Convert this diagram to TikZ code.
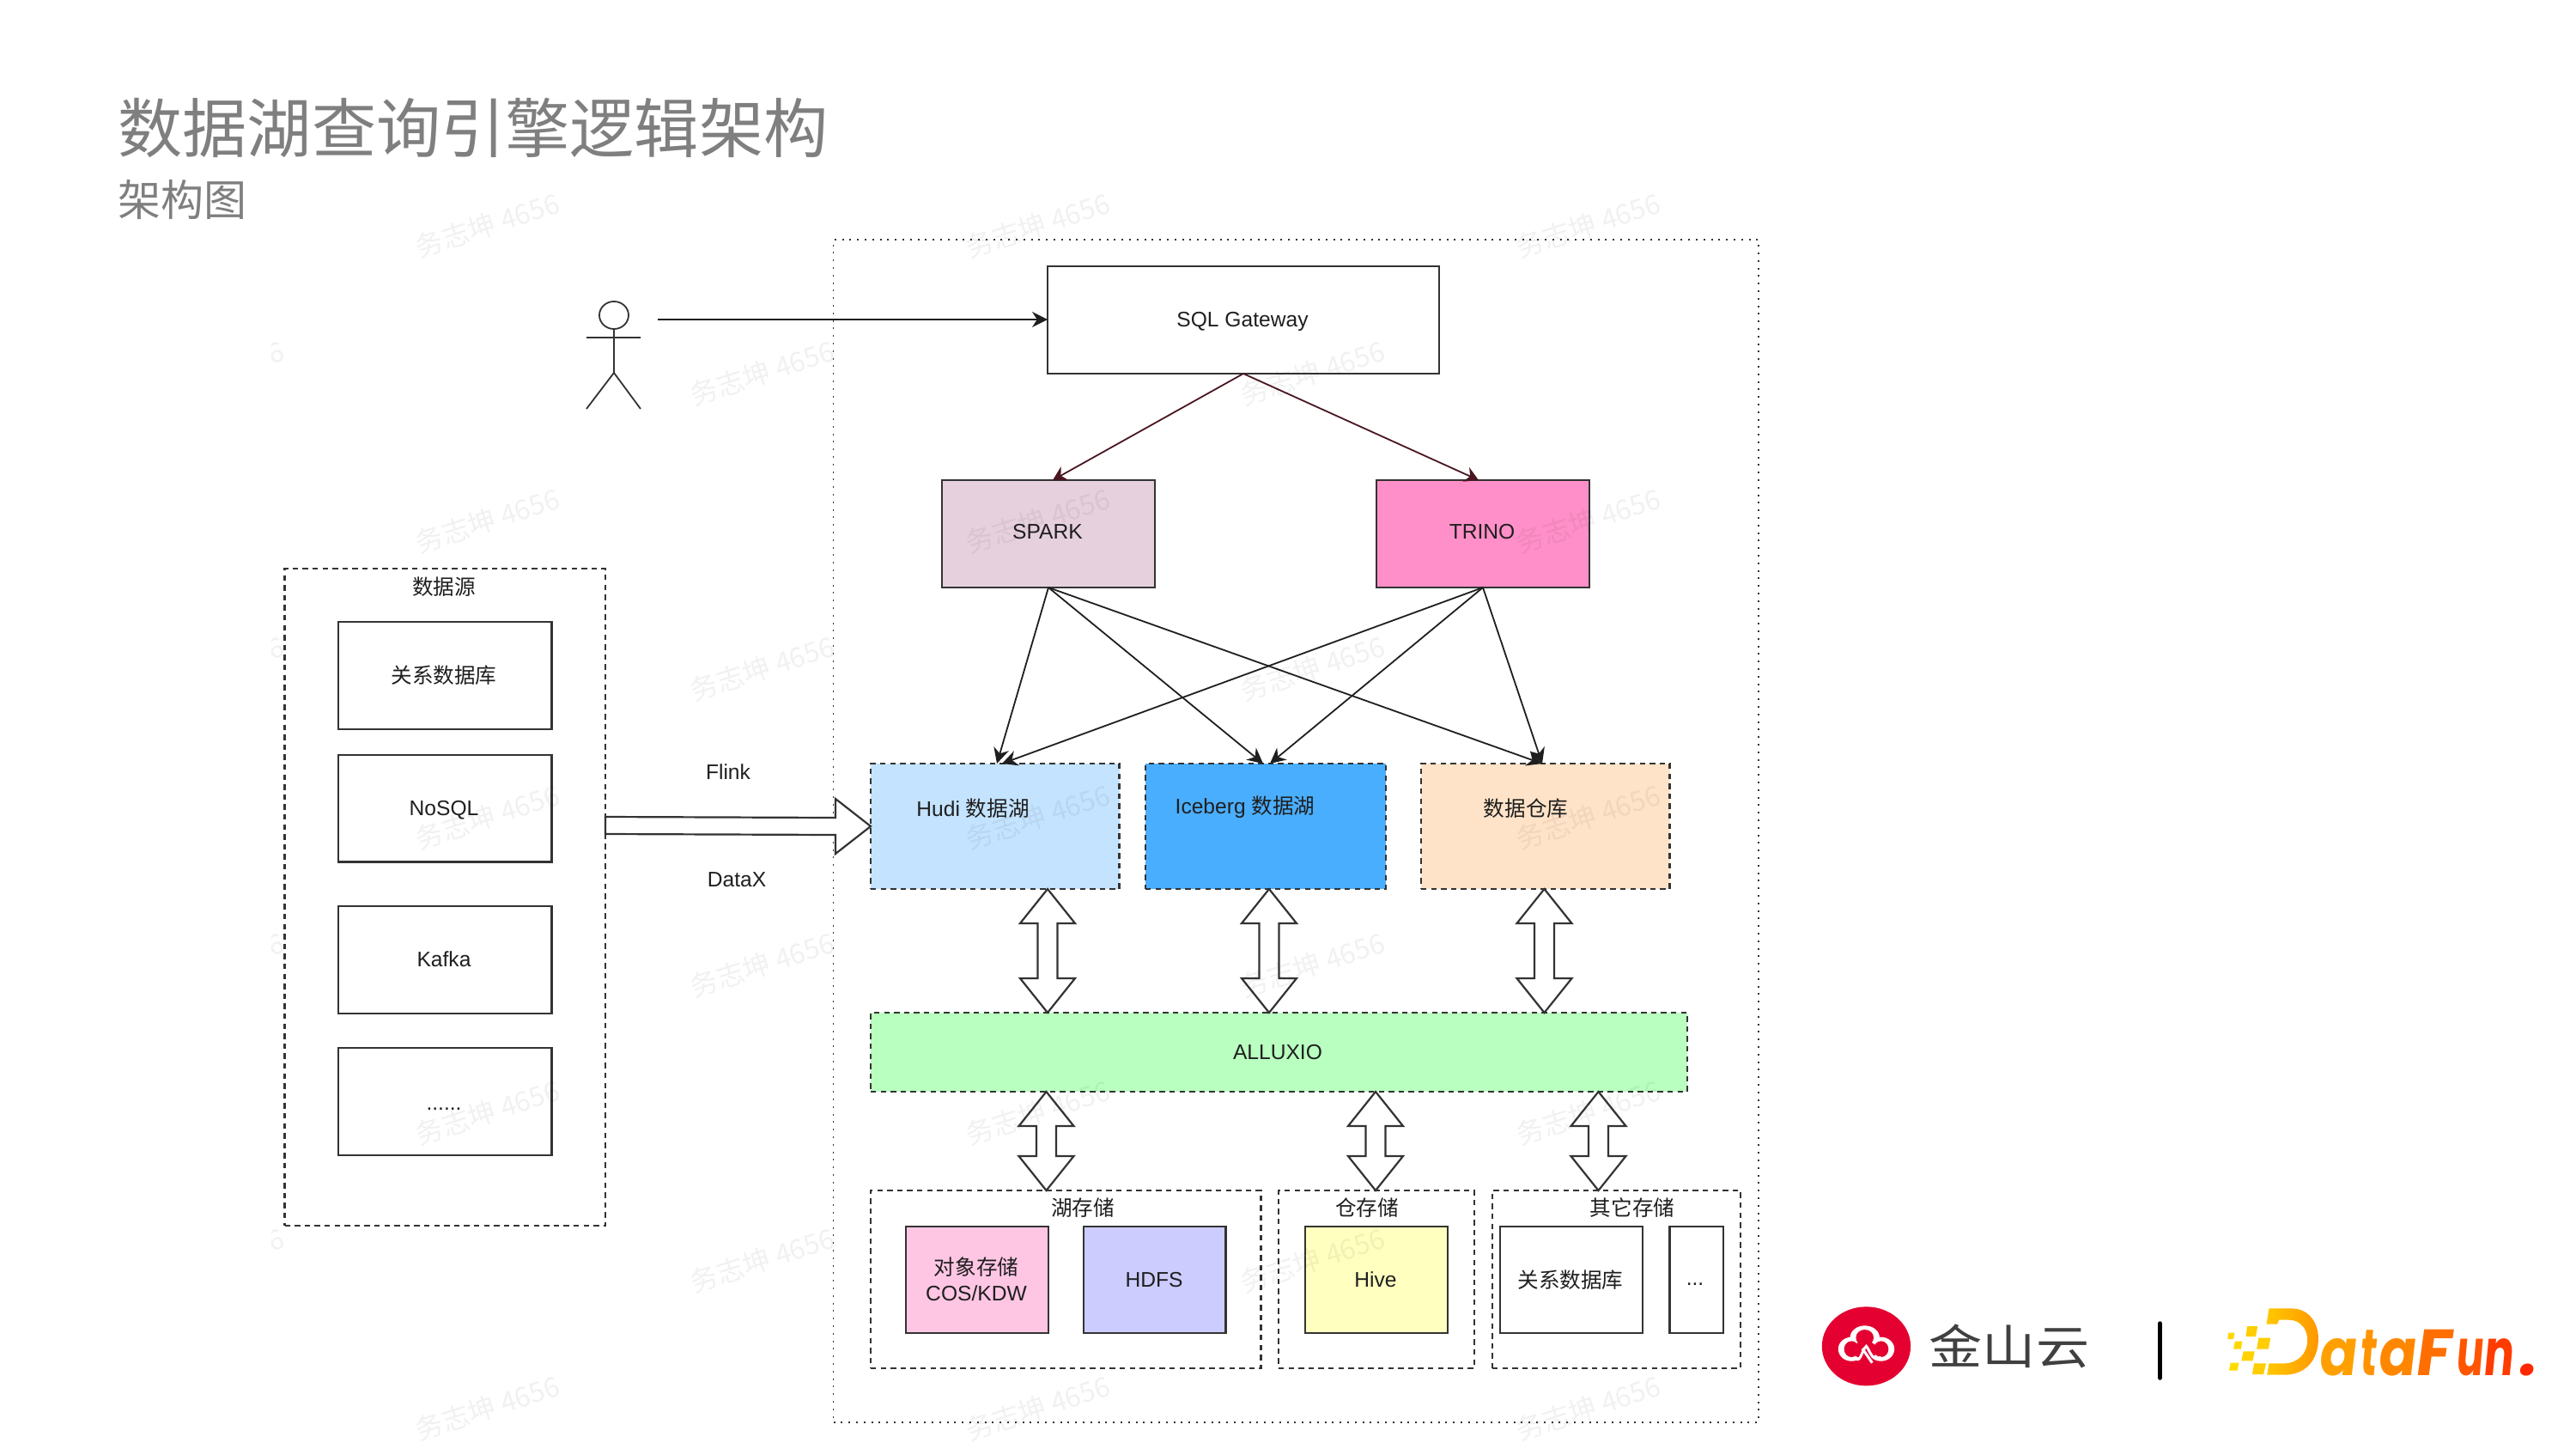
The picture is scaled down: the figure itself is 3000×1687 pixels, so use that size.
\documentclass[tikz,border=0pt]{standalone}
\usepackage{fontspec}
\setmainfont{Liberation Sans}
\newfontfamily\cjk{Noto Sans CJK SC}
\newfontfamily\dfun[FakeSlant=0.14]{Poppins}
\usetikzlibrary{arrows.meta,calc,shapes.geometric}
\definecolor{edgeg}{HTML}{333333}
\definecolor{wine}{HTML}{4A1620}
\definecolor{titleg}{HTML}{7F7F7F}
\definecolor{ksred}{HTML}{E40030}
\tikzset{
  solidbox/.style={draw=edgeg,line width=1.1pt,rectangle,inner sep=0pt,outer sep=0pt},
  dashbox/.style={draw=edgeg,line width=1.1pt,rectangle,inner sep=0pt,outer sep=0pt,dash pattern=on 3.2pt off 2.6pt},
  dotbox/.style={draw=edgeg,line width=0.8pt,rectangle,inner sep=0pt,outer sep=0pt,dash pattern=on 1pt off 3.4pt},
  lbl/.style={inner sep=0pt,outer sep=0pt,text=black!88,font=\fontsize{12.3}{15}\selectfont},
  thin arrow/.style={draw=black!88,line width=0.9pt,-{Stealth[length=9pt,width=9pt]}},
  wine arrow/.style={draw=wine,line width=0.9pt,-{Stealth[length=8pt,width=9pt]}},
  blockarrow/.style={draw=edgeg,line width=1.1pt,fill=white,line join=miter},
  wm/.style={inner sep=0pt,text=black,text opacity=0.055,rotate=18,font=\cjk\fontsize{16}{18}\selectfont},
  dfl/.style={inner sep=0pt,outer sep=0pt,anchor=base west,font=\dfun\bfseries\fontsize{38}{40}\selectfont}
}
\newcommand{\boxat}[6]{\node[#6,minimum width={(#4-#2)*0.5pt},minimum height={(#5-#3)*0.5pt}] (#1) at ({(#2+#4)/2},{(#3+#5)/2}) {};}
\newcommand{\dblarr}[2]{\draw[blockarrow] (#1) -- ($(#1)+(32,40)$) -- ($(#1)+(11.5,40)$) -- ($(#2)+(11.5,-40)$) -- ($(#2)+(32,-40)$) -- (#2) -- ($(#2)+(-32,-40)$) -- ($(#2)+(-11.5,-40)$) -- ($(#1)+(-11.5,40)$) -- ($(#1)+(-32,40)$) -- cycle;}
\newcommand{\wmk}[2]{\node[wm] at (#1,#2) {务志坤 4656};}
\begin{document}
\begin{tikzpicture}[x=0.5pt,y=-0.5pt]
\useasboundingbox (0,0) rectangle (3000,1687);
% title
\node[inner sep=0pt,anchor=west,text=titleg,font=\cjk\fontsize{37.6}{40}\selectfont] (title) at (137,149) {数据湖查询引擎逻辑架构};
\node[inner sep=0pt,anchor=west,text=titleg,font=\cjk\fontsize{25}{28}\selectfont] (subtitle) at (137,233) {架构图};
% containers
\boxat{outer}{970.5}{279}{2048}{1656}{dotbox}
\boxat{src}{331.5}{662}{705}{1427}{dashbox}
% data source
\boxat{s1}{394}{724}{642.5}{849}{solidbox}
\boxat{s2}{394}{879}{642.5}{1003.5}{solidbox}
\boxat{s3}{394}{1055}{642.5}{1180}{solidbox}
\boxat{s4}{394}{1220}{642.5}{1345}{solidbox}
\node[lbl] (srct) at (517,683) {\cjk 数据源};
\node[lbl] (s1t) at (517,786) {\cjk 关系数据库};
\node[lbl] (s2t) at (517,943) {NoSQL};
\node[lbl] (s3t) at (517,1117) {Kafka};
\node[lbl] (s4t) at (517,1291) {......};
\node[lbl] (flink) at (848,899) {Flink};
\node[lbl] (datax) at (858,1024) {DataX};
% engine boxes
\boxat{gw}{1220}{310}{1676}{435}{solidbox}
\boxat{spark}{1097}{559}{1345}{684}{solidbox,fill={rgb,255:red,230;green,208;blue,222}}
\boxat{trino}{1603}{559}{1851}{684}{solidbox,fill={rgb,255:red,255;green,143;blue,200}}
\boxat{hudi}{1014}{889}{1303.5}{1035}{dashbox,fill={rgb,255:red,196;green,227;blue,255}}
\boxat{ice}{1334}{889}{1614}{1035}{dashbox,fill={rgb,255:red,74;green,174;blue,255}}
\boxat{dw}{1655}{889}{1944.5}{1035}{dashbox,fill={rgb,255:red,255;green,227;blue,200}}
\boxat{alx}{1014}{1179}{1965}{1271}{dashbox,fill={rgb,255:red,185;green,255;blue,192}}
\boxat{lake}{1014}{1386}{1468.5}{1593}{dashbox}
\boxat{wh}{1489}{1386}{1717}{1593}{dashbox}
\boxat{oth}{1738}{1386}{2027}{1593}{dashbox}
\boxat{obj}{1055}{1428}{1221}{1552}{solidbox,fill={rgb,255:red,255;green,198;blue,228}}
\boxat{hdfs}{1262}{1428}{1427.5}{1552}{solidbox,fill={rgb,255:red,204;green,204;blue,255}}
\boxat{hive}{1520}{1428}{1686}{1552}{solidbox,fill={rgb,255:red,255;green,255;blue,192}}
\boxat{rdb}{1747}{1428}{1913}{1552}{solidbox}
\boxat{more}{1944.5}{1428}{2007}{1552}{solidbox}
\node[lbl] (gwt) at (1447,374) {SQL Gateway};
\node[lbl] (spt) at (1220,619) {SPARK};
\node[lbl] (trt) at (1726,619) {TRINO};
\node[lbl] (hut) at (1133,941) {Hudi {\cjk 数据湖}};
\node[lbl] (ict) at (1450,940) {Iceberg {\cjk 数据湖}};
\node[lbl] (dwt) at (1777,941) {\cjk 数据仓库};
\node[lbl] (alt) at (1488,1225) {ALLUXIO};
\node[lbl] (lkt) at (1261,1406) {\cjk 湖存储};
\node[lbl] (wht) at (1592,1406) {\cjk 仓存储};
\node[lbl] (ott) at (1901,1406) {\cjk 其它存储};
\node[lbl,align=center] (objt) at (1137,1489) {{\cjk 对象存储}\\COS/KDW};
\node[lbl] (hdt) at (1344,1490) {HDFS};
\node[lbl] (hvt) at (1602,1490) {Hive};
\node[lbl] (rdt) at (1829,1490) {\cjk 关系数据库};
\node[lbl] (mot) at (1974,1495) {...};
% actor
\node[draw=edgeg,line width=0.9pt,ellipse,minimum width=17pt,minimum height=16pt,inner sep=0pt,outer sep=0pt] (head) at (715,367) {};
\coordinate (waist) at (715,434);
\coordinate (armL) at (683,393);
\coordinate (armR) at (746,393);
\coordinate (legL) at (683,476);
\coordinate (legR) at (746,476);
\coordinate (actorout) at (766,372);
\draw[draw=edgeg,line width=0.9pt] (head.south) -- (waist) (armL) -- (armR) (legL) -- (waist) -- (legR);
% connectors
\coordinate (gwin) at (gw.west |- actorout);
\draw[thin arrow] (actorout) -- (gwin);
\coordinate (spIn) at (1226,559);
\coordinate (trIn) at (1722,559);
\draw[wine arrow] (gw.south) -- (spIn);
\draw[wine arrow] (gw.south) -- (trIn);
\coordinate (huA) at (1161,889);
\coordinate (huB) at (1167,889);
\coordinate (icA) at (1471,889);
\coordinate (icB) at (1479,889);
\coordinate (dwA) at (1796,889);
\draw[thin arrow] (spark.south) -- (huA);
\draw[thin arrow] (spark.south) -- (icA);
\draw[thin arrow] (spark.south) -- (dwA);
\draw[thin arrow] (trino.south) -- (huB);
\draw[thin arrow] (trino.south) -- (icB);
\draw[thin arrow] (trino.south) -- (dwA);
% block arrows
\coordinate (bigS) at (src.east |- 0,961);
\coordinate (bigT) at (hudi.west);
\draw[blockarrow] ($(bigS)+(0,-10)$) -- ($(bigT)+(-41,-10)$) -- ($(bigT)+(-41,-32)$) -- (bigT) -- ($(bigT)+(-41,32)$) -- ($(bigT)+(-41,10)$) -- ($(bigS)+(0,10)$) -- cycle;
\coordinate (a1t) at (1220,1035);\coordinate (a1b) at (1220,1179);
\coordinate (a2t) at (1478,1035);\coordinate (a2b) at (1478,1179);
\coordinate (a3t) at (1798.5,1035);\coordinate (a3b) at (1798.5,1179);
\coordinate (b1t) at (1218.5,1271);\coordinate (b1b) at (1218.5,1386);
\coordinate (b2t) at (1602,1271);\coordinate (b2b) at (1602,1386);
\coordinate (b3t) at (1861.5,1271);\coordinate (b3b) at (1861.5,1386);
\dblarr{a1t}{a1b}\dblarr{a2t}{a2b}\dblarr{a3t}{a3b}
\dblarr{b1t}{b1b}\dblarr{b2t}{b2b}\dblarr{b3t}{b3b}
% logos: Kingsoft Cloud
\begin{scope}[shift={(2100,1480)},x=0.287pt,y=-0.1667pt]
\fill[ksred] (128,262) ellipse [x radius=90,y radius=138];
\fill[white] (125,232) ellipse [x radius=30,y radius=42] (98,272) ellipse [x radius=27,y radius=42] (158,272) ellipse [x radius=27,y radius=42];
\fill[ksred] (125,232) ellipse [x radius=18,y radius=28] (98,272) ellipse [x radius=15,y radius=28] (158,272) ellipse [x radius=15,y radius=28] (125,275) ellipse [x radius=26,y radius=30];
\draw[white,line width=1.5pt] (105,300) .. controls (115,330) and (120,270) .. (128,262) .. controls (135,275) and (140,320) .. (158,300);
\draw[white,line width=1.5pt] (120,270) -- (140,320);
% bar
\draw[black,line width=2.4pt,line cap=round] (724,182) -- (724,373);
% DataFun squares
\fill[fill={rgb,255:red,255;green,215;blue,0}] (863,215) -- (875,215) -- (873,237) -- (861,237) -- cycle;
\fill[fill={rgb,255:red,255;green,205;blue,0}] (901,192) -- (922,192) -- (918,228) -- (898,228) -- cycle;
\fill[fill={rgb,255:red,255;green,215;blue,0}] (876,245) -- (891,245) -- (888,272) -- (873,272) -- cycle;
\fill[fill={rgb,255:red,255;green,205;blue,0}] (924,233) -- (948,233) -- (944,272) -- (920,272) -- cycle;
\fill[fill={rgb,255:red,255;green,210;blue,0}] (893,280) -- (916,280) -- (912,313) -- (889,313) -- cycle;
\fill[fill={rgb,255:red,255;green,220;blue,0}] (867,320) -- (884,320) -- (881,347) -- (864,347) -- cycle;
\fill[fill={rgb,255:red,255;green,205;blue,0}] (915,322) -- (939,322) -- (934,360) -- (911,360) -- cycle;
\shade[left color={rgb,255:red,255;green,200;blue,0},right color={rgb,255:red,255;green,150;blue,0}] (945,130) -- (990,130) .. controls (1030,130) and (1047,190) .. (1045,245) .. controls (1043,310) and (1020,362) .. (975,362) -- (941,362) -- (945,322) -- (975,322) .. controls (1005,322) and (1022,285) .. (1023,245) .. controls (1024,205) and (1010,170) .. (985,170) -- (965,170) -- (962,185) -- (940,185) -- cycle;
\end{scope}
\node[inner sep=0pt,text=black!75,xscale=1.13,font=\cjk\fontsize{27.5}{30}\selectfont] (ksc) at (2340,1567) {金山云};
\node[dfl,xscale=0.85,text={rgb,255:red,255;green,160;blue,0}] (d1) at (2699,1601) {a};
\node[dfl,xscale=0.62,text={rgb,255:red,255;green,148;blue,0}] (d2) at (2747,1601) {t};
\node[dfl,xscale=0.85,text={rgb,255:red,255;green,135;blue,0}] (d3) at (2768,1601) {a};
\node[dfl,xscale=1.0,text={rgb,255:red,255;green,110;blue,0}] (d4) at (2811,1601) {F};
\node[dfl,xscale=0.62,text={rgb,255:red,255;green,85;blue,0}] (d5) at (2859,1601) {u};
\node[dfl,xscale=0.68,text={rgb,255:red,255;green,60;blue,0}] (d6) at (2891,1601) {n};
\node[dfl,xscale=1.0,text={rgb,255:red,255;green,40;blue,0}] (d7) at (2931,1601) {.};
% watermarks
\foreach \yy in {262,606,951,1295,1639}{\wmk{568}{\yy}\wmk{1209}{\yy}\wmk{1850}{\yy}}
\foreach \yy in {434,778,1123,1467}{\wmk{1529}{\yy}}
\begin{scope}
\clip (316,250) rectangle (972,1687);
\foreach \yy in {434,778,1123,1467}{\wmk{247}{\yy}\wmk{888}{\yy}}
\end{scope}
\end{tikzpicture}
\end{document}
